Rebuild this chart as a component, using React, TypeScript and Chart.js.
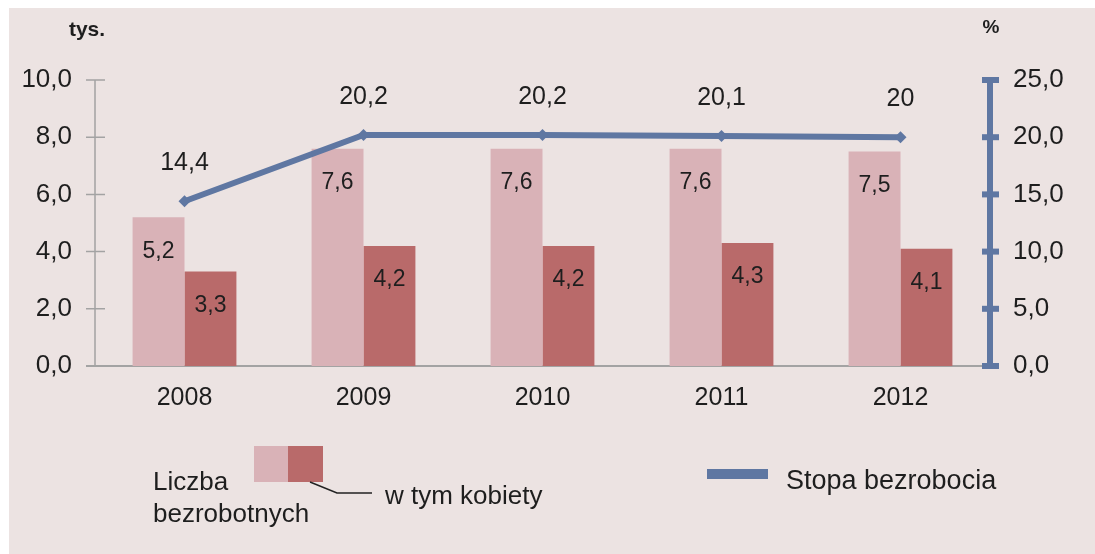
import React, { useEffect, useRef } from "react";
import { Chart, registerables } from "chart.js";

Chart.register(...registerables);

const years = ["2008", "2009", "2010", "2011", "2012"];
const unemployed = [5.2, 7.6, 7.6, 7.6, 7.5];
const women = [3.3, 4.2, 4.2, 4.3, 4.1];
const rate = [14.4, 20.2, 20.2, 20.1, 20];
const leftTicks = [0, 2, 4, 6, 8, 10];
const rightTicks = [0, 5, 10, 15, 20, 25];

const FONT = "'Liberation Sans', Arial, sans-serif";
const TXT = "#1e1e1e";
const LIGHT = "#d9b2b7";
const DARK = "#b96a6a";
const BLUE = "#5f77a2";
const fmt = (v: number) => v.toString().replace(".", ",");

const overlay = {
  id: "overlay",
  beforeDatasetsDraw(chart: any) {
    const ctx = chart.ctx;
    const { left, right, bottom } = chart.chartArea;
    const y = chart.scales.y;
    ctx.save();
    ctx.strokeStyle = "#a3a3a3";
    ctx.lineWidth = 1.5;
    ctx.beginPath();
    ctx.moveTo(left, y.getPixelForValue(10));
    ctx.lineTo(left, bottom);
    leftTicks.forEach((t) => {
      const py = y.getPixelForValue(t);
      ctx.moveTo(left - 9, py);
      ctx.lineTo(left + 10, py);
    });
    ctx.stroke();
    ctx.lineWidth = 2;
    ctx.beginPath();
    ctx.moveTo(left - 9, bottom);
    ctx.lineTo(right, bottom);
    ctx.stroke();
    ctx.restore();
  },
  afterDatasetsDraw(chart: any) {
    const ctx = chart.ctx;
    const { right, bottom } = chart.chartArea;
    const y2 = chart.scales.y2;
    ctx.save();
    ctx.strokeStyle = BLUE;
    ctx.lineWidth = 6;
    ctx.beginPath();
    ctx.moveTo(right, y2.getPixelForValue(25) - 3);
    ctx.lineTo(right, bottom + 3);
    ctx.stroke();
    rightTicks.forEach((t) => {
      const py = y2.getPixelForValue(t);
      ctx.fillStyle = BLUE;
      ctx.fillRect(right - 8, py - 3, 17, 6);
    });

    ctx.fillStyle = TXT;
    ctx.textAlign = "center";
    ctx.textBaseline = "middle";
    ctx.font = `23px ${FONT}`;
    [0, 1].forEach((di) => {
      const meta = chart.getDatasetMeta(di);
      const data = di === 0 ? unemployed : women;
      meta.data.forEach((bar: any, i: number) => {
        ctx.fillText(fmt(data[i]), bar.x, bar.y + 34);
      });
    });
    ctx.font = `25px ${FONT}`;
    const lm = chart.getDatasetMeta(2);
    lm.data.forEach((pt: any, i: number) => {
      ctx.fillText(fmt(rate[i]), pt.x, pt.y - 38);
    });

    ctx.font = `bold 21px ${FONT}`;
    ctx.fillText("tys.", 87, 30);
    ctx.font = `bold 19px ${FONT}`;
    ctx.fillText("%", 991, 28);

    ctx.fillStyle = LIGHT;
    ctx.fillRect(254, 446, 34, 36);
    ctx.fillStyle = DARK;
    ctx.fillRect(288, 446, 35, 36);
    ctx.strokeStyle = "#222";
    ctx.lineWidth = 1.5;
    ctx.beginPath();
    ctx.moveTo(310, 482);
    ctx.lineTo(337, 493);
    ctx.lineTo(372, 493);
    ctx.stroke();
    ctx.fillStyle = TXT;
    ctx.textAlign = "left";
    ctx.font = `26px ${FONT}`;
    ctx.fillText("Liczba", 153, 483);
    ctx.fillText("bezrobotnych", 153, 515);
    ctx.fillText("w tym kobiety", 385, 497);
    ctx.fillStyle = BLUE;
    ctx.fillRect(707, 469, 61, 10);
    ctx.fillStyle = TXT;
    ctx.font = `27px ${FONT}`;
    ctx.fillText("Stopa bezrobocia", 786, 482);
    ctx.restore();
  },
};

export default function App() {
  const ref = useRef<HTMLCanvasElement | null>(null);
  useEffect(() => {
    if (!ref.current) return;
    const chart = new Chart(ref.current, {
      type: "bar",
      data: {
        labels: years,
        datasets: [
          {
            type: "bar",
            label: "Liczba bezrobotnych",
            data: unemployed,
            backgroundColor: LIGHT,
            yAxisID: "y",
            order: 1,
            categoryPercentage: 0.58,
            barPercentage: 1,
          },
          {
            type: "bar",
            label: "w tym kobiety",
            data: women,
            backgroundColor: DARK,
            yAxisID: "y",
            order: 1,
            categoryPercentage: 0.58,
            barPercentage: 1,
          },
          {
            type: "line",
            label: "Stopa bezrobocia",
            data: rate,
            borderColor: BLUE,
            backgroundColor: BLUE,
            borderWidth: 6,
            pointStyle: "rectRot",
            pointRadius: 6,
            pointBorderWidth: 0,
            yAxisID: "y2",
            order: 0,
          },
        ],
      } as any,
      options: {
        animation: false,
        responsive: false,
        devicePixelRatio: 1,
        layout: { padding: { top: 80, left: 0, right: 0, bottom: 0 } },
        plugins: { legend: { display: false }, tooltip: { enabled: false } },
        scales: {
          x: {
            grid: { display: false },
            border: { display: false },
            ticks: { color: TXT, font: { family: FONT, size: 25 }, padding: 9 },
            afterFit: (s: any) => {
              s.height = 188;
            },
          },
          y: {
            position: "left",
            min: 0,
            max: 10,
            afterBuildTicks: (s: any) => {
              s.ticks = leftTicks.map((v) => ({ value: v }));
            },
            grid: { display: false },
            border: { display: false },
            ticks: {
              color: TXT,
              font: { family: FONT, size: 26 },
              padding: 15,
              callback: (v: any) => Number(v).toFixed(1).replace(".", ","),
            },
            afterFit: (s: any) => {
              s.width = 95;
            },
          },
          y2: {
            position: "right",
            min: 0,
            max: 25,
            afterBuildTicks: (s: any) => {
              s.ticks = rightTicks.map((v) => ({ value: v }));
            },
            grid: { display: false },
            border: { display: false },
            ticks: {
              color: TXT,
              font: { family: FONT, size: 26 },
              padding: 15,
              callback: (v: any) => Number(v).toFixed(1).replace(".", ","),
            },
            afterFit: (s: any) => {
              s.width = 105;
            },
          },
        },
      } as any,
      plugins: [overlay],
    });
    return () => chart.destroy();
  }, []);

  return (
    <div
      style={{
        position: "absolute",
        left: 0,
        top: 0,
        width: 1095,
        height: 554,
        background: "#ffffff",
        overflow: "hidden",
      }}
    >
      <div
        style={{
          position: "absolute",
          left: 9,
          top: 8,
          right: 0,
          bottom: 0,
          background: "#ece3e2",
        }}
      />
      <canvas
        ref={ref}
        width={1095}
        height={554}
        style={{ position: "absolute", left: 0, top: 0, width: 1095, height: 554 }}
      />
    </div>
  );
}
